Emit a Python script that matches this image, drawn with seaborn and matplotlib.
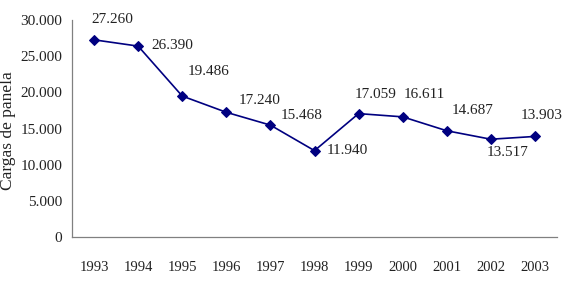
import pandas as pd
import seaborn as sns
import matplotlib.pyplot as plt
from matplotlib.ticker import FuncFormatter, FixedLocator

# data
years = ['1993', '1994', '1995', '1996', '1997', '1998', '1999', '2000', '2001', '2002', '2003']
cargas = [27260, 26390, 19486, 17240, 15468, 11940, 17059, 16611, 14687, 13517, 13903]
# label offsets (pixels) so the value labels sit like in the original
label_dx = [18, 34, 26, 33, 31, 33, 17, 22, 26, 17, 7]
label_dy = [20, 1, 25, 12, 10, 0, 19, 22, 20, -13, 21]

df = pd.DataFrame({'year': years, 'cargas': cargas})

sns.set_style('white')
plt.rcParams['font.family'] = ['Liberation Serif', 'DejaVu Serif']

def miles(v, pos=None):
    return f"{int(round(v)):,}".replace(',', '.')

fig = plt.figure(figsize=(5.69, 2.98), dpi=100)
ax = fig.add_axes([72 / 569, 1 - 237 / 298, 485 / 569, 217 / 298])

sns.lineplot(data=df, x='year', y='cargas', ax=ax, color='#000080', linewidth=1.2,
             marker='D', markersize=5.5, markeredgecolor='#000080')

for i, v in enumerate(cargas):
    ax.annotate(miles(v), (i, v), xytext=(label_dx[i], label_dy[i]), textcoords='offset pixels',
                ha='center', va='center', fontsize=11, color='#222222')

ax.set_xlim(-0.5, len(years) - 0.5)
ax.set_ylim(0, 30000)
ax.set_yticks(range(0, 30001, 5000))
ax.yaxis.set_major_formatter(FuncFormatter(miles))
ax.xaxis.set_minor_locator(FixedLocator([i - 0.5 for i in range(len(years) + 1)]))
ax.tick_params(axis='x', which='major', length=0, pad=17, labelsize=10.5)
ax.tick_params(axis='x', which='minor', length=4, color='#808080', width=0.8, direction='out')
ax.tick_params(axis='y', length=4, color='#808080', width=0.8, direction='out', labelsize=11, pad=3)
ax.tick_params(axis='both', labelcolor='#222222')

for s in ['top', 'right']:
    ax.spines[s].set_visible(False)
for s in ['left', 'bottom']:
    ax.spines[s].set_color('#808080')
    ax.spines[s].set_linewidth(0.9)

ax.set_xlabel('')
ax.set_ylabel('')
fig.text(8 / 569, 1 - 131 / 298, 'Cargas de panela', rotation=90, ha='center', va='center',
         fontsize=12.5, color='#222222')

fig.savefig('out.png', dpi=100)
